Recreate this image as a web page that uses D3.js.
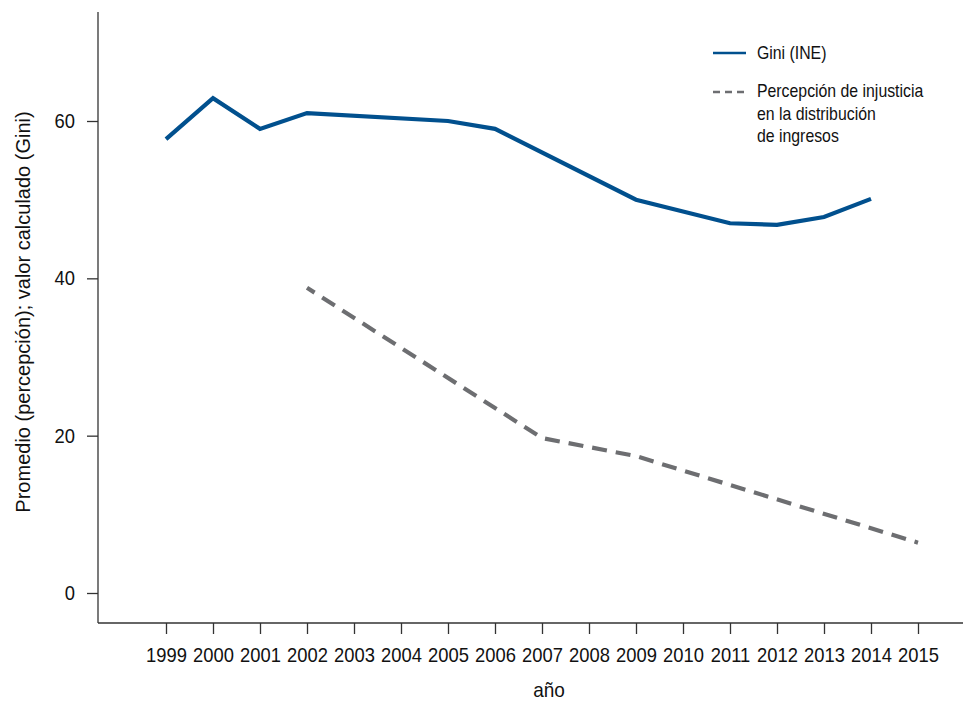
<!DOCTYPE html>
<html>
<head>
<meta charset="utf-8">
<script src="https://cdn.jsdelivr.net/npm/d3@7"></script>
<style>
  html, body { margin: 0; padding: 0; background: #fff; }
  svg { display: block; font-family: "Liberation Sans", Arial, sans-serif; }
</style>
</head>
<body>
<svg id="chart" width="963" height="701"></svg>
<script>
// ---- Data ----
const years = [1999,2000,2001,2002,2003,2004,2005,2006,2007,2008,2009,2010,2011,2012,2013,2014,2015];
const giniYears  = [1999, 2000, 2001, 2002, 2005, 2006, 2009, 2011, 2012, 2013, 2014];
const giniValues = [57.7, 62.9, 59.0, 61.0, 60.0, 59.0, 50.0, 47.0, 46.8, 47.8, 50.1];
const percYears  = [2002, 2007, 2009, 2015];
const percValues = [38.8, 19.7, 17.4, 6.4];
const yTicks = [0, 20, 40, 60];
const legendLabels = ["Gini (INE)", ["Percepción de injusticia", "en la distribución", "de ingresos"]];
const xTitle = "año";
const yTitle = "Promedio (percepción); valor calculado (Gini)";

// ---- Layout ----
const svg = d3.select("#chart");
const axisColor = "#333333";
const blue = "#01508e";
const gray = "#6d6e71";
const textColor = "#111111";

const x = d3.scaleLinear().domain([1999, 2015]).range([166, 918]);
const y = d3.scaleLinear().domain([0, 60]).range([593, 121]);
const yTop = 12, yBottom = 623, xLeft = 98, xRight = 963;

// horizontally condense a text element (mimic a condensed typeface)
function condense(sel, k, xPos) {
  sel.attr("transform", `scale(${k},1)`).attr("x", xPos / k);
}

// Axis lines
svg.append("line").attr("x1", xLeft).attr("x2", xLeft).attr("y1", yTop).attr("y2", yBottom)
  .attr("stroke", axisColor).attr("stroke-width", 1.3);
svg.append("line").attr("x1", xLeft).attr("x2", xRight).attr("y1", yBottom).attr("y2", yBottom)
  .attr("stroke", axisColor).attr("stroke-width", 1.3);

// Y axis ticks
const yAxis = d3.axisLeft(y).tickValues(yTicks).tickSize(11).tickPadding(10).tickFormat(d3.format("d"));
const gy = svg.append("g").attr("transform", `translate(${xLeft},0)`).call(yAxis);
gy.select(".domain").remove();
gy.selectAll(".tick line").attr("stroke", axisColor).attr("stroke-width", 1.3);
gy.selectAll(".tick text").attr("fill", textColor).style("font-size", "20px")
  .style("font-family", "Liberation Sans, Arial, sans-serif")
  .call(condense, 0.92, -23);

// X axis ticks
const xAxis = d3.axisBottom(x).tickValues(years).tickSize(11).tickPadding(14).tickFormat(d3.format("d"));
const gx = svg.append("g").attr("transform", `translate(0,${yBottom})`).call(xAxis);
gx.select(".domain").remove();
gx.selectAll(".tick line").attr("stroke", axisColor).attr("stroke-width", 1.3);
gx.selectAll(".tick text").attr("fill", textColor).style("font-size", "20px")
  .style("font-family", "Liberation Sans, Arial, sans-serif")
  .call(condense, 0.92, 0);

// Titles
svg.append("text").attr("y", 697).attr("text-anchor", "middle")
  .attr("fill", textColor).style("font-size", "20px").text(xTitle)
  .call(condense, 0.95, 549);
svg.append("text").attr("transform", `translate(30,312) rotate(-90)`).attr("text-anchor", "middle")
  .attr("fill", textColor).style("font-size", "20px").text(yTitle);

// Lines
const line = d3.line().x(d => x(d[0])).y(d => y(d[1]));
svg.append("path").datum(giniYears.map((yr, i) => [yr, giniValues[i]]))
  .attr("d", line).attr("fill", "none").attr("stroke", blue).attr("stroke-width", 4.2)
  .attr("stroke-linejoin", "miter");
svg.append("path").datum(percYears.map((yr, i) => [yr, percValues[i]]))
  .attr("d", line).attr("fill", "none").attr("stroke", gray).attr("stroke-width", 4.2)
  .attr("stroke-dasharray", "15,9").attr("stroke-dashoffset", 6);

// Legend
const lg = svg.append("g");
lg.append("line").attr("x1", 713).attr("x2", 746).attr("y1", 53).attr("y2", 53)
  .attr("stroke", blue).attr("stroke-width", 2.5);
lg.append("text").attr("y", 53).attr("dy", "0.35em").attr("fill", textColor)
  .style("font-size", "18px").text(legendLabels[0])
  .call(condense, 0.88, 757);
lg.append("line").attr("x1", 713).attr("x2", 746).attr("y1", 92).attr("y2", 92)
  .attr("stroke", gray).attr("stroke-width", 2.5).attr("stroke-dasharray", "7,5");
legendLabels[1].forEach((t, i) => {
  lg.append("text").attr("y", 91 + i * 22.5).attr("dy", "0.35em").attr("fill", textColor)
    .style("font-size", "18px").text(t)
    .call(condense, 0.88, 757);
});
</script>
</body>
</html>
